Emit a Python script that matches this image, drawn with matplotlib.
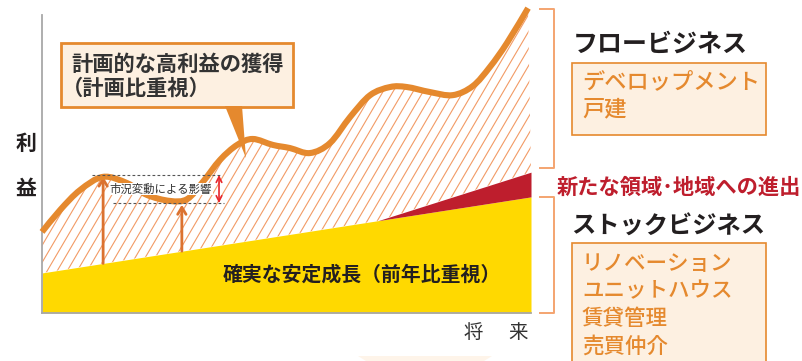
import numpy as np
import matplotlib.pyplot as plt
from matplotlib.patches import Polygon, Rectangle, PathPatch
from matplotlib.path import Path
from matplotlib.collections import LineCollection

plt.rcParams['font.family'] = ['Noto Sans CJK JP', 'DejaVu Sans']

# -----------------------------------
# DATA (time 0-100, profit 0-100)
# -----------------------------------

# profit curve (flow + stock)
years = [0, 3.7, 7.8, 12.5, 17.4, 21.5, 26.2, 29.7, 32.9, 36.4, 39.9, 43.1,
         47.2, 50.7, 54.8, 58.9, 63.0, 67.1, 71.2, 74.6, 79.3, 84.0, 88.1,
         91.6, 95.1, 99.4]
profit = [25.9, 32.9, 39.3, 43.5, 41.5, 37.7, 35.8, 36.4, 41.9, 48.9, 53.7,
          55.6, 53.7, 52.7, 51.1, 54.3, 62.6, 69.6, 72.2, 72.2, 70.6, 69.6,
          72.5, 78.6, 86.3, 97.4]

# stock business (steady growth)
stock_x = [0, 100]
stock_y = [12.8, 37.1]

# new fields / regions wedge
new_x = [68.5, 100]
new_y = [29.4, 45.0]

# market fluctuation marks
peak_x, peak_y = 12.5, 44.1
trough_x, trough_y = 28.6, 35.1

bubble_lines = ["計画的な高利益の獲得", "（計画比重視）"]
stock_label = "確実な安定成長（前年比重視）"
flow_title = "フロービジネス"
flow_items = ["デベロップメント", "戸建"]
new_label = "新たな領域･地域への進出"
stock_title = "ストックビジネス"
stock_items = ["リノベーション", "ユニットハウス", "賃貸管理", "売買仲介"]

ORANGE = '#E5892E'
DARK_OR = '#DB7230'
HATCH = '#F29B66'
YELLOW = '#FFD900'
RED = '#BE1E2D'
CREAM = '#FDF0E1'
BRACKET = '#F4A470'
TXT = '#231F20'

W, H = 802, 361


def fx(px):
    return px / W


def fy(py):
    return 1 - py / H


def smooth_path(xs, ys):
    # Catmull-Rom through the read points, drawn as cubic Bezier segments
    p = np.column_stack([xs, ys]).astype(float)
    pp = np.vstack([p[0], p, p[-1]])
    verts = [p[0]]
    codes = [Path.MOVETO]
    for i in range(1, len(pp) - 2):
        p0, p1, p2, p3 = pp[i - 1], pp[i], pp[i + 1], pp[i + 2]
        verts += [p1 + (p2 - p0) / 6, p2 - (p3 - p1) / 6, p2]
        codes += [Path.CURVE4] * 3
    return np.array(verts), codes


fig = plt.figure(figsize=(W / 100, H / 100), dpi=100)
ax = fig.add_axes([fx(42), fy(313), 489 / W, 313 / H])
ax.set_xlim(0, 100)
ax.set_ylim(0, 100)
ax.set_xticks([])
ax.set_yticks([])
ax.patch.set_alpha(0)
for s in ['top', 'right']:
    ax.spines[s].set_visible(False)
for s in ['left', 'bottom']:
    ax.spines[s].set_color('#A8A8A8')
    ax.spines[s].set_linewidth(1.3)
ax.spines['left'].set_bounds(0, 95.2)

# yellow stock area
ax.fill_between(stock_x, 0, stock_y, color=YELLOW, lw=0, zorder=2)

# red wedge
base = np.interp(new_x, stock_x, stock_y)
ax.fill_between(new_x, base, new_y, color=RED, lw=0, zorder=2)

# hatched flow area between the lower boundary and the curve
cv, cc = smooth_path(years, profit)
low = np.array([[new_x[1], new_y[1]], [new_x[0], new_y[0]],
                [stock_x[0], stock_y[0]]])
clip_path = Path(np.vstack([cv, low, cv[:1]]),
                 cc + [Path.LINETO] * 3 + [Path.CLOSEPOLY])
clip = PathPatch(clip_path, fc='none', ec='none')
ax.add_patch(clip)
segs = []
for c in np.arange(-45, 100, 2.05):
    segs.append([(c, 0), (c + 100 / 2.66, 100)])
hatch = LineCollection(segs, colors=HATCH, linewidths=0.8, zorder=1)
hatch.set_clip_path(clip)
ax.add_collection(hatch)

# profit curve
ax.add_patch(PathPatch(Path(cv, cc), fc='none', ec=ORANGE, lw=4.4,
                       joinstyle='round', capstyle='butt', zorder=4,
                       clip_on=False))

# arrows from the stock line to the curve
for xa, ya in [(peak_x, peak_y), (trough_x, trough_y)]:
    y0 = np.interp(xa, stock_x, stock_y)
    ax.annotate('', xy=(xa, ya - 0.5), xytext=(xa, y0),
                arrowprops=dict(arrowstyle='->,head_length=0.5,head_width=0.3',
                                color=DARK_OR, lw=2.0, shrinkA=0, shrinkB=0),
                zorder=3)

# dashed guide lines and market fluctuation marker
ax.plot([10.2, 36.6], [peak_y, peak_y], ls=(0, (2.5, 2)), color='#555555',
        lw=0.8, zorder=5)
ax.plot([14.5, 37.2], [trough_y, trough_y], ls=(0, (2.5, 2)), color='#555555',
        lw=0.8, zorder=5)
ax.annotate('', xy=(36.2, peak_y), xytext=(36.2, trough_y),
            arrowprops=dict(arrowstyle='<->,head_length=0.4,head_width=0.2',
                            color='#E8262D', lw=1.2, shrinkA=0, shrinkB=0),
            zorder=5)
ax.text(24.3, 39.6, "市況変動による影響", fontsize=8.2, color='#333333',
        ha='center', va='center', zorder=5,
        bbox=dict(fc='white', ec='none', pad=0.5))

ax.text(65.5, 12.5, stock_label, fontsize=14.3, fontweight='bold', color=TXT,
        ha='center', va='center', zorder=5)

# speech bubble
bub = Polygon([(fx(61), fy(43)), (fx(293), fy(43)), (fx(293), fy(107)),
               (fx(61), fy(107))], closed=True, fc=CREAM, ec=ORANGE, lw=2.0,
              transform=fig.transFigure, zorder=6)
fig.add_artist(bub)
tip = Polygon([(fx(225), fy(106)), (fx(242), fy(106)), (fx(246), fy(158))],
              closed=True, fc=ORANGE, ec='none', transform=fig.transFigure,
              zorder=6)
fig.add_artist(tip)
fig.text(fx(71), fy(64), bubble_lines[0], fontsize=15.3, fontweight='bold',
         color='#333333', ha='left', va='center', zorder=7)
fig.text(fx(62), fy(88), bubble_lines[1], fontsize=15.3, fontweight='bold',
         color='#333333', ha='left', va='center', zorder=7)

# axis labels
fig.text(fx(26), fy(143), "利", fontsize=15, fontweight='bold', color=TXT,
         ha='center', va='center')
fig.text(fx(26), fy(188), "益", fontsize=15, fontweight='bold', color=TXT,
         ha='center', va='center')
fig.text(fx(473), fy(332), "将", fontsize=14, color='#333333',
         ha='center', va='center')
fig.text(fx(518), fy(332), "来", fontsize=14, color='#333333',
         ha='center', va='center')

# brackets on the right
for top, bot in [(9, 168), (197, 313)]:
    fig.add_artist(plt.Line2D([fx(540), fx(554), fx(554), fx(540)],
                              [fy(top), fy(top), fy(bot), fy(bot)],
                              color=BRACKET, lw=1.4,
                              transform=fig.transFigure))

# flow business
fig.text(fx(573), fy(45), flow_title, fontsize=18, fontweight='bold',
         color=TXT, ha='left', va='center')
fig.add_artist(Rectangle((fx(572), fy(135)), fx(766) - fx(572),
                         fy(63) - fy(135), fc=CREAM, ec=ORANGE, lw=1.2,
                         transform=fig.transFigure))
for i, t in enumerate(flow_items):
    fig.text(fx(582), fy(82 + i * 27), t, fontsize=16, fontweight='medium',
             color=ORANGE, ha='left', va='center')

fig.text(fx(557), fy(187), new_label, fontsize=15.3, fontweight='bold',
         color=RED, ha='left', va='center')

# stock business
fig.text(fx(571), fy(227), stock_title, fontsize=17.5, fontweight='bold',
         color=TXT, ha='left', va='center')
fig.add_artist(Rectangle((fx(572), fy(365)), fx(766) - fx(572),
                         fy(243) - fy(365), fc=CREAM, ec=ORANGE, lw=1.2,
                         transform=fig.transFigure))
for i, t in enumerate(stock_items):
    fig.text(fx(582), fy(264 + i * 27.5), t, fontsize=15.5,
             fontweight='medium', color=ORANGE, ha='left', va='center')

# faint shadow at bottom
fig.add_artist(Polygon([(fx(358), fy(356)), (fx(492), fy(356)),
                        (fx(484), fy(361)), (fx(366), fy(361))],
                       closed=True, fc='#FEF4E9', ec='none',
                       transform=fig.transFigure))

fig.savefig('out.png', dpi=100)
